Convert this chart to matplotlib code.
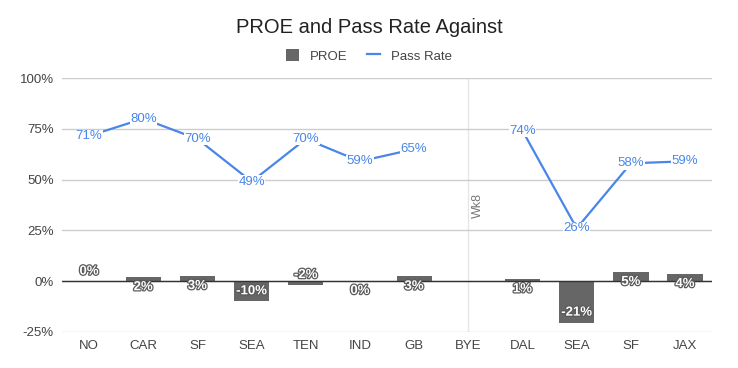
import numpy as np
import matplotlib.pyplot as plt
import matplotlib.patheffects as pe

plt.rcParams['font.family'] = ['Liberation Sans', 'DejaVu Sans']

# data
teams = ['NO', 'CAR', 'SF', 'SEA', 'TEN', 'IND', 'GB', 'BYE', 'DAL', 'SEA', 'SF', 'JAX']
proe = [-0.3, 2, 2.6, -10, -2, 0.2, 2.4, np.nan, 1, -20.5, 4.6, 3.6]
proe_labels = ['0%', '2%', '3%', '-10%', '-2%', '0%', '3%', '', '1%', '-21%', '5%', '4%']
pass_rate = [71.5, 80, 70, 49, 70, 59, 65, np.nan, 74, 26, 58, 59]
pass_labels = ['71%', '80%', '70%', '49%', '70%', '59%', '65%', '', '74%', '26%', '58%', '59%']

bar_color = '#666666'
line_color = '#4a86e8'
text_color = '#444444'

fig = plt.figure(figsize=(7.38, 3.68), dpi=100)
ax = fig.add_axes([0.084, 0.098, 0.881, 0.69])

x = np.arange(len(teams))

# bars
bars = ax.bar(x, proe, width=0.65, color=bar_color, zorder=2, label='PROE')
for xi, v, lab in zip(x, proe, proe_labels):
    if lab == '':
        continue
    if v >= 0:
        va, dy = 'top', -3
    else:
        va, dy = 'bottom', 3
    ax.annotate(lab, (xi, v), xytext=(0, dy), textcoords='offset points',
                ha='center', va=va, fontsize=9.5, fontweight='bold',
                color='white', zorder=5,
                path_effects=[pe.withStroke(linewidth=1.8, foreground='#5a5a5a')])

# line
line, = ax.plot(x, pass_rate, color=line_color, lw=1.6, zorder=3, label='Pass Rate')
for xi, v, lab in zip(x, pass_rate, pass_labels):
    if lab == '':
        continue
    ax.text(xi, v, lab, ha='center', va='center', fontsize=9.5, color=line_color,
            zorder=4, bbox=dict(facecolor='white', edgecolor='none', pad=0.3))

# bye week marker
ax.axvline(7, color='#e6e6e6', lw=1, zorder=1)
ax.text(7.17, 37, 'Wk8', rotation=90, ha='center', va='center', fontsize=9,
        color='#777777')

ax.set_xlim(-0.5, len(teams) - 0.5)
ax.set_ylim(-25, 100)
ax.set_yticks([-25, 0, 25, 50, 75, 100])
ax.set_yticklabels(['-25%', '0%', '25%', '50%', '75%', '100%'])
ax.set_xticks(x)
ax.set_xticklabels(teams)
ax.tick_params(length=0, labelsize=9.5, colors=text_color, pad=6)
ax.grid(axis='y', color='#cccccc', lw=1, zorder=0)
ax.axhline(0, color='#333333', lw=1, zorder=2.5)
for sp in ax.spines.values():
    sp.set_visible(False)

fig.suptitle('PROE and Pass Rate Against', y=0.95, fontsize=14.5, color='#222222')
fig.legend([bars, line], ['PROE', 'Pass Rate'], loc='center',
           bbox_to_anchor=(0.5, 0.848), ncol=2, frameon=False,
           fontsize=9.5, handlelength=1.0, handleheight=1.0, columnspacing=1.5,
           labelcolor=text_color)

fig.savefig('out.png', dpi=100)
